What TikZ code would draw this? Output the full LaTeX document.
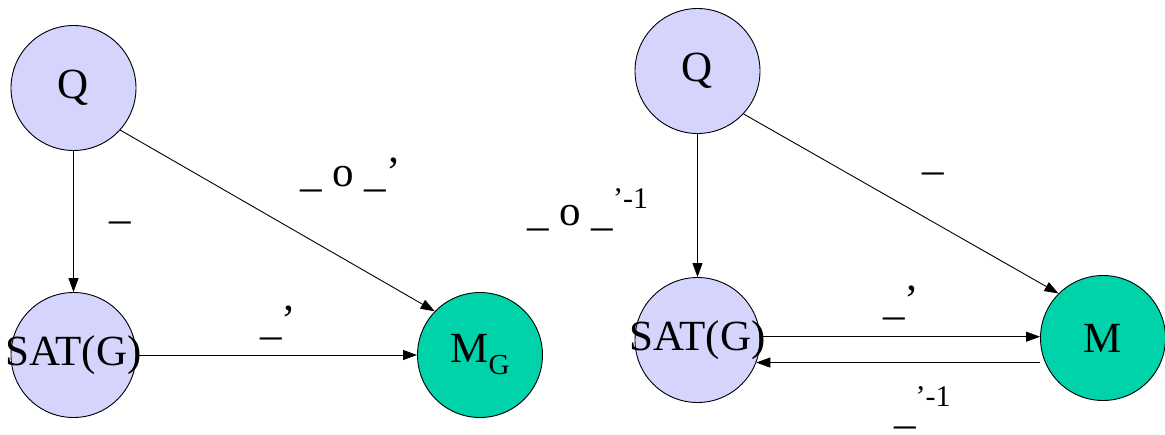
\documentclass[tikz,border=0pt]{standalone}
\usepackage{fontspec}
\setmainfont{Liberation Serif}
\usetikzlibrary{arrows.meta}
\definecolor{lav}{RGB}{212,212,252}
\definecolor{teal2}{RGB}{0,210,170}
\tikzset{
  st/.style={circle, draw=black, line width=0.9pt, fill=lav, minimum size=125pt, inner sep=0pt, font=\fontsize{43}{50}\selectfont},
  gn/.style={st, fill=teal2},
  txt/.style={inner sep=0pt, font=\fontsize{43}{50}\selectfont},
  arr/.style={-{Triangle[length=14pt,width=10pt]}, line width=0.9pt},
  lbl/.style={anchor=base west, inner sep=0pt, font=\fontsize{43}{50}\selectfont},
}
\newcommand{\sps}[1]{\raisebox{17pt}{\fontsize{30}{34}\selectfont #1}}
\begin{document}
\begin{tikzpicture}[x=1pt,y=-1pt]
\useasboundingbox (0,0) rectangle (1165,434);
% left diagram
\node[st] (qL) at (73.5,88) {Q};
\node[st] (sL) at (73.5,355) {};
\node[txt] (sLt) at (sL) {SAT(G)};
\node[gn] (mL) at (480,355) {M\raisebox{-12pt}{\fontsize{29}{32}\selectfont G}};
\draw[arr] (qL.south) -- (sL.north);
\draw[arr] (qL.-42) -- (mL.136);
\draw[arr] (sL.east) -- (mL.west);
\node[lbl] (l1) at (109,218) {\_};
\node[lbl] (l2) at (300,186) {\_ o \_’};
\node[lbl] (l3) at (260,334) {\_’};
% middle label
\node[lbl] (l4) at (527,225) {\_ o \_\sps{’-1}};
% right diagram
\node[st] (qR) at (697.5,71) {Q};
\node[st] (sR) at (697.5,340) {};
\node[txt] (sRt) at (sR) {SAT(G)};
\node[gn] (mR) at (1103,338) {M};
\draw[arr] (qR.south) -- (sR.north);
\draw[arr] (qR.-43) -- (mR.135);
\draw[arr] (sR.3) -- (sR.3 -| mR.west);
\draw[arr] (mR.west |- sR.-21) -- (sR.-21);
\node[lbl] (l5) at (922,169) {\_};
\node[lbl] (l6) at (883,314) {\_’};
\node[lbl] (l7) at (894,423) {\_\sps{’-1}};
\end{tikzpicture}
\end{document}
